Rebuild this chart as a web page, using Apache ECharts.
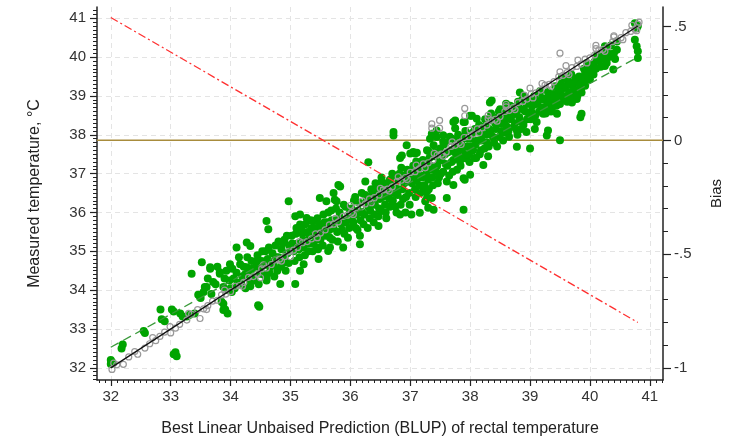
<!DOCTYPE html>
<html>
<head>
<meta charset="utf-8">
<script src="https://cdn.jsdelivr.net/npm/echarts@6/dist/echarts.min.js"></script>
<style>
html,body{margin:0;padding:0;background:#fff;}
#chart{width:735px;height:442px;}
</style>
</head>
<body>
<div id="chart"></div>
<script>
// ---- Data ----
const xTicks = [32,33,34,35,36,37,38,39,40,41];
const yTicks = [32,33,34,35,36,37,38,39,40,41];
const biasTicks = [-1,-0.5,0,0.5];
const biasTickLabels = ['-1','-.5','0','.5'];

// Measured vs BLUP (green filled points)
const measured = [
[32.0,32.1],[32.0,32.2],[32.02,32.15],[32.18,32.5],[32.2,32.6],[32.57,32.9],[32.55,32.95],[33.05,32.35],[33.1,32.3],[33.08,32.4],
[32.83,33.5],[32.85,33.25],[32.9,33.2],[33.02,33.5],[33.05,33.45],[33.16,33.4],[33.2,33.32],[33.27,33.32],[33.32,33.37],[33.4,33.4],
[33.46,33.88],[33.5,33.8],[33.6,34.08],[33.35,34.42],[33.66,34.55],[33.82,34.42],[33.88,33.49],[33.88,33.65],[33.95,33.4],[33.91,33.5],
[33.96,34.0],[34.0,34.05],[33.52,34.72],[33.57,34.08],[33.71,34.21],[33.85,33.7],[34.02,33.95],[33.49,33.83],
[33.55,33.95],[33.62,34.3],[33.68,33.9],[33.75,34.15],[33.78,34.6],[33.9,34.3],[33.93,34.5],[33.98,34.25],
[34.6,35.78],[34.63,35.57],[34.27,35.23],[34.33,35.14],[34.1,35.1],[33.66,34.59],[33.82,34.46],[33.99,34.67],[34.16,34.67],[34.27,34.59],
[33.88,34.08],[34.46,33.61],[34.48,33.57],[34.83,34.16],[35.08,34.16],[34.6,34.25],[34.33,34.25],[34.49,34.42],[34.66,34.59],
[34.05,34.3],[34.1,34.45],[34.12,34.2],[34.2,34.35],[34.22,34.6],[34.25,34.05],[34.3,34.5],[34.35,34.75],[34.38,34.35],[34.42,34.6],
[34.45,34.9],[34.5,34.55],[34.52,34.75],[34.55,34.4],[34.58,35.0],[34.62,34.8],[34.65,34.45],[34.7,34.95],[34.72,34.65],[34.75,35.15],
[34.78,34.5],[34.8,34.85],[34.85,35.05],[34.88,34.7],[34.9,35.3],[34.92,34.5],[34.95,34.95],[34.98,35.15],
[34.03,34.55],[34.07,34.05],[34.14,34.85],[34.18,34.15],[34.24,34.4],[34.28,34.85],[34.33,34.1],[34.36,34.55],[34.4,34.25],[34.44,34.75],
[34.47,34.15],[34.53,35.0],[34.56,34.65],[34.6,34.3],[34.64,35.1],[34.68,34.7],[34.73,34.35],[34.76,34.85],[34.8,35.25],[34.84,34.6],
[34.87,35.2],[34.9,34.85],[34.94,35.4],[34.97,34.7],
[34.97,36.29],[35.6,36.29],[35.77,36.29],[35.08,35.9],[35.16,35.69],[35.16,34.5],[35.22,34.67],[35.47,34.8],[35.63,35.01],[35.8,36.71],
[35.83,36.67],[35.72,36.5],[35.74,36.33],[35.49,36.37],[35.16,35.95],[35.27,35.86],[35.38,35.78],[35.49,35.52],[35.27,35.27],[35.44,35.1],
[35.88,35.1],[35.66,35.1],
[35.02,35.4],[35.05,35.0],[35.1,35.6],[35.12,35.2],[35.15,34.85],[35.2,35.45],[35.22,35.1],[35.25,35.7],[35.3,35.0],[35.32,35.4],
[35.35,35.6],[35.38,35.2],[35.42,35.45],[35.45,35.85],[35.5,35.3],[35.52,35.65],[35.55,35.95],[35.58,35.4],[35.62,35.75],[35.65,35.55],
[35.68,36.05],[35.7,35.3],[35.75,35.8],[35.78,35.5],[35.82,36.0],[35.85,35.7],[35.9,35.45],[35.92,36.15],[35.95,35.85],[35.98,35.6],
[35.03,35.2],[35.07,34.75],[35.09,35.45],[35.14,35.05],[35.18,35.6],[35.21,35.3],[35.24,34.9],[35.28,35.5],[35.31,35.2],[35.34,35.8],
[35.37,35.0],[35.4,35.6],[35.43,35.3],[35.46,35.05],[35.48,35.7],[35.51,35.5],[35.54,35.15],[35.57,35.75],[35.6,35.55],[35.63,36.0],
[35.66,35.35],[35.69,35.8],[35.72,35.6],[35.76,36.1],[35.79,35.25],[35.83,35.85],[35.86,35.55],[35.89,36.2],[35.93,35.75],[35.96,35.35],
[35.99,36.0],
[36.3,37.29],[36.25,36.8],[36.5,36.75],[36.66,36.84],[36.77,36.8],[36.94,36.88],[36.83,35.95],[36.47,35.65],[36.16,35.4],[36.16,35.18],
[36.72,38.07],[36.72,37.98],[36.86,37.47],[36.83,37.4],[36.94,37.73],
[36.02,36.1],[36.05,35.75],[36.08,36.4],[36.1,35.95],[36.12,35.55],[36.15,36.25],[36.2,36.0],[36.22,35.7],[36.25,36.45],[36.3,36.15],
[36.32,35.85],[36.35,36.6],[36.38,36.3],[36.4,35.95],[36.42,36.75],[36.45,36.45],[36.48,36.1],[36.52,36.9],[36.55,36.55],[36.58,36.2],
[36.6,35.85],[36.62,36.7],[36.65,36.35],[36.7,37.0],[36.72,36.5],[36.75,36.15],[36.78,36.85],[36.8,36.6],[36.85,37.15],[36.88,36.35],
[36.9,36.75],[36.95,37.1],[36.98,36.5],[36.92,36.0],
[36.03,35.9],[36.06,36.3],[36.09,35.6],[36.13,36.05],[36.17,35.8],[36.19,36.5],[36.23,35.95],[36.27,36.3],[36.29,35.6],[36.33,36.05],
[36.36,36.45],[36.39,35.75],[36.41,36.2],[36.44,36.6],[36.47,35.9],[36.49,36.35],[36.51,36.05],[36.54,36.4],[36.57,36.75],[36.59,36.0],
[36.63,36.5],[36.66,36.15],[36.69,36.85],[36.71,36.3],[36.74,36.65],[36.77,36.0],[36.79,36.45],[36.82,37.0],[36.84,36.2],[36.87,36.6],
[36.9,36.95],[36.93,36.4],[36.96,36.8],[36.99,36.2],
[37.0,37.52],[37.11,37.54],[37.3,37.58],[37.28,36.54],[37.36,36.37],[37.3,36.12],[37.39,36.07],[37.02,35.95],[37.16,35.99],[37.05,37.56],
[37.1,37.31],[37.33,37.9],[37.44,37.94],[37.55,37.82],[37.55,37.99],[37.83,37.31],[37.89,36.88],[38.0,36.97],[37.75,38.37],[37.75,38.17],
[37.89,38.33],[37.08,37.52],[37.28,37.6],[37.39,37.73],[37.36,38.03],[37.44,38.11],[37.72,38.33],[37.91,38.33],[37.94,37.39],[37.91,36.84],
[37.89,36.07],[37.61,36.37],[37.72,36.71],[37.25,36.29],[37.28,36.37],
[37.02,36.9],[37.05,37.2],[37.08,36.6],[37.12,37.0],[37.15,36.7],[37.18,37.3],[37.2,36.9],[37.22,36.55],[37.25,37.15],[37.3,36.85],
[37.32,37.4],[37.35,37.1],[37.38,36.7],[37.42,37.55],[37.45,37.2],[37.48,36.9],[37.5,37.65],[37.52,37.35],[37.55,37.05],[37.58,37.5],
[37.6,37.8],[37.62,37.2],[37.65,36.95],[37.68,37.6],[37.7,37.9],[37.72,37.35],[37.75,37.7],[37.78,37.1],[37.8,38.0],[37.82,37.55],
[37.85,37.8],[37.88,37.4],[37.92,38.1],[37.95,37.7],[37.98,37.5],
[37.03,36.75],[37.06,37.05],[37.09,36.4],[37.11,36.85],[37.14,37.15],[37.17,36.5],[37.19,36.95],[37.21,37.35],[37.24,36.7],[37.27,37.0],
[37.29,37.3],[37.31,36.6],[37.34,37.2],[37.37,36.9],[37.4,37.45],[37.43,37.05],[37.46,36.75],[37.49,37.35],[37.51,37.0],[37.53,37.45],
[37.56,37.75],[37.59,37.25],[37.61,36.8],[37.63,37.55],[37.66,37.95],[37.69,37.3],[37.71,37.05],[37.74,37.55],[37.76,37.85],[37.79,37.4],
[37.81,37.7],[37.84,37.2],[37.86,37.6],[37.9,37.95],[37.93,37.5],[37.96,37.9],[37.99,37.3],
[38.0,38.49],[38.11,38.41],[38.33,38.83],[38.5,38.66],[38.67,38.75],[38.83,39.09],[38.22,37.22],[38.78,37.69],[39.0,37.65],[38.36,38.88],
[38.03,38.49],[38.39,38.37],[38.5,38.41],[38.78,38.11],[38.94,38.07],[38.72,38.54],[38.67,38.71],[38.94,38.79],
[38.02,37.9],[38.05,37.6],[38.08,38.15],[38.1,37.4],[38.12,37.85],[38.15,38.25],[38.18,37.6],[38.2,38.0],[38.25,38.4],[38.28,37.8],
[38.3,37.45],[38.32,38.15],[38.35,38.55],[38.38,37.95],[38.42,38.3],[38.45,37.7],[38.48,38.6],[38.52,38.1],[38.55,37.85],[38.58,38.4],
[38.6,38.8],[38.62,38.2],[38.65,37.95],[38.7,38.5],[38.75,38.3],[38.8,38.85],[38.82,38.45],[38.85,38.15],[38.88,38.65],[38.9,39.0],
[38.95,38.4],[38.98,38.8],
[38.01,37.7],[38.04,38.05],[38.07,37.4],[38.09,37.75],[38.13,38.1],[38.16,37.5],[38.19,37.85],[38.22,38.2],[38.24,37.65],[38.27,38.0],
[38.29,38.35],[38.31,37.7],[38.34,38.05],[38.37,38.4],[38.4,37.8],[38.43,38.15],[38.46,38.45],[38.49,37.95],[38.51,38.3],[38.54,38.6],
[38.56,38.05],[38.59,38.25],[38.61,38.55],[38.64,38.1],[38.68,38.4],[38.71,38.7],[38.73,38.2],[38.77,38.55],[38.79,38.0],[38.81,38.7],
[38.84,38.35],[38.87,38.9],[38.89,38.25],[38.92,38.6],[38.96,38.9],[38.99,38.5],
[39.08,38.15],[39.11,38.33],[39.17,39.13],[39.28,38.92],[39.39,39.05],[39.5,39.05],[39.11,38.79],[39.33,38.79],[39.5,38.79],[39.22,38.54],
[39.45,38.54],[39.86,38.54],[39.53,39.47],[39.64,39.38],[39.75,39.34],[39.86,39.34],[39.86,39.09],[39.72,39.05],[39.78,38.92],[39.7,38.83],
[39.92,39.6],[40.0,39.56],[39.95,39.85],[39.95,39.64],[39.92,39.26],[39.85,39.17],[39.5,37.86],[39.84,38.45],[39.28,37.98],[39.3,38.11],
[39.02,38.6],[39.05,38.9],[39.15,38.6],[39.2,38.95],[39.25,38.7],[39.3,39.1],[39.35,38.6],[39.4,38.85],[39.42,39.25],[39.48,38.95],
[39.55,39.2],[39.58,38.9],[39.6,39.45],[39.65,39.1],[39.68,38.95],[39.72,39.3],[39.8,39.15],[39.82,39.5],
[39.01,38.4],[39.04,38.75],[39.07,39.0],[39.09,38.5],[39.13,38.85],[39.16,39.1],[39.19,38.7],[39.23,38.9],[39.26,38.55],[39.29,38.8],
[39.31,39.0],[39.34,38.95],[39.37,38.7],[39.41,39.0],[39.44,38.75],[39.47,39.15],[39.52,39.3],[39.56,39.0],[39.59,39.25],[39.62,38.85],
[39.66,39.3],[39.69,39.55],[39.73,39.15],[39.76,39.45],[39.79,39.0],[39.83,39.3],[39.88,39.45],[39.9,39.7],[39.93,39.4],[39.97,39.5],
[40.08,39.89],[40.0,39.68],[40.0,39.43],[40.25,40.28],[40.25,39.98],[40.25,39.77],[40.39,39.68],[40.45,40.4],[40.45,40.19],[40.75,40.87],
[40.78,40.74],[40.8,40.8],[40.75,40.45],[40.78,40.28],[40.8,40.15],[40.8,39.98],[40.05,39.75],[40.15,39.9],[40.12,40.05],[40.3,40.1],
[40.35,40.3],[40.2,40.1],
[40.02,39.8],[40.06,39.55],[40.1,39.7],[40.18,39.75],[40.22,39.95],[40.28,39.85],[40.32,40.0],[40.4,40.1],[40.42,39.95]
];

// Predicted values (grey hollow circles)
const predicted = [
[32.02,31.96],[32.1,32.08],[32.21,32.09],[32.3,32.28],[32.4,32.42],[32.57,32.51],[32.65,32.62],[32.75,32.7],[32.82,32.81],[32.9,32.92],
[32.99,33.06],[33.08,33.02],[33.15,33.12],[33.27,33.23],[33.35,33.38],[33.49,33.27],[33.45,33.5],[33.55,33.52],[33.62,33.6],[33.7,33.72],
[33.78,33.74],[33.85,33.88],[33.92,33.9],[34.0,33.96],[34.08,34.1],[34.15,34.12],[34.22,34.2],[34.3,34.33],[34.38,34.35],[34.45,34.42],
[34.52,34.55],[34.6,34.57],[34.68,34.66],[34.75,34.78],[34.82,34.8],[34.9,34.86],[34.98,35.0],[35.05,35.03],[35.12,35.1],[35.2,35.22],
[35.28,35.25],[35.35,35.32],[35.42,35.45],[35.5,35.47],[35.58,35.55],[35.65,35.68],[35.72,35.7],[35.8,35.76],[35.88,35.9],[35.95,35.93],
[36.02,36.0],[36.1,36.12],[36.18,36.15],[36.25,36.22],[36.32,36.35],[36.4,36.38],[36.48,36.45],[36.55,36.58],[36.62,36.6],[36.7,36.66],
[36.78,36.8],[36.85,36.83],[36.92,36.9],[37.0,37.03],[37.08,37.05],[37.15,37.12],[37.22,37.25],[37.3,37.28],[37.38,37.35],[37.45,37.48],
[37.52,37.5],[37.6,37.56],[37.68,37.7],[37.75,37.73],[37.82,37.8],[37.9,37.93],[37.98,37.95],[38.05,38.02],[38.12,38.15],[38.2,38.18],
[38.28,38.25],[38.35,38.38],[38.42,38.4],[38.5,38.47],[38.58,38.6],[38.65,38.63],[38.72,38.7],[38.8,38.83],[38.88,38.86],[38.95,38.92],
[39.02,39.05],[39.1,39.08],[39.18,39.15],[39.25,39.28],[39.32,39.3],[39.4,39.37],[39.48,39.5],[39.55,39.53],[39.62,39.6],[39.7,39.73],
[39.78,39.76],[39.85,39.82],[39.92,39.95],[40.0,39.98],[40.08,40.06],[40.15,40.18],[40.22,40.2],[40.3,40.27],[40.38,40.4],[40.45,40.43],
[40.52,40.5],[40.6,40.63],[40.68,40.66],[40.75,40.72],[40.8,40.85],[40.82,40.9],
[37.36,38.28],[37.36,38.17],[37.49,38.37],[37.49,38.17],[37.91,38.68],[37.91,38.49],[39.5,40.1],
[36.0,36.18],[38.3,38.5],[40.4,40.55],[34.5,34.32],[35.0,34.86],[39.0,39.2],[39.6,39.78],[38.6,38.78],[40.1,40.3],
[32.05,32.12],[32.45,32.35],[32.7,32.78],[33.0,32.9],[33.3,33.4],[33.6,33.5],[33.9,34.0],[34.2,34.1],[34.55,34.65],[34.85,34.75],
[35.15,35.25],[35.45,35.35],[35.75,35.85],[36.05,35.95],[36.2,36.3],[36.35,36.25],[36.5,36.62],[36.65,36.55],[36.8,36.92],[36.95,36.85],
[37.1,37.22],[37.25,37.15],[37.4,37.52],[37.55,37.45],[37.7,37.82],[37.85,37.75],[38.0,38.12],[38.15,38.05],[38.3,38.42],[38.45,38.35],
[38.6,38.72],[38.75,38.65],[38.9,39.02],[39.05,38.95],[39.2,39.32],[39.35,39.25],[39.5,39.62],[39.65,39.55],[39.8,39.92],[39.95,39.85],
[40.1,40.22],[40.25,40.15],[40.4,40.52],[40.55,40.45],[40.7,40.82],[40.78,40.68]
];

// Reference lines
const identityLine = [[32,32],[40.8,40.8]];
const fitLine = [[32,32.53],[40.8,40.0]];
const biasLine = [[32,0.54],[40.8,-0.8]];
const xMin = 31.77, xMax = 41.22;
const yMin = 31.687, yMax = 41.29;
const bMin = -1.053, bMax = 0.586;
const zeroBias = [[xMin,0],[xMax,0]];

function range(a, b, step){ const r=[]; for(let v=a; v<=b+1e-9; v+=step){ r.push(Math.round(v*100)/100); } return r; }
const xMinor = range(31.8, 41.2, 0.1);
const yMinor = range(31.7, 41.2, 0.1);
const bMinor = range(-1.0, 0.5, 0.1);

const FONT = 'Liberation Sans, Arial, sans-serif';
const axisCol = '#222';
const gridLine = {show:true, lineStyle:{color:'#e4e4e4', type:[5,4], width:1}};

const chart = echarts.init(document.getElementById('chart'), null, {renderer:'canvas'});
chart.setOption({
  animation:false,
  backgroundColor:'#fff',
  grid:{left:97, right:72, top:7, bottom:58, containLabel:false},
  xAxis:[
    {type:'value', min:xMin, max:xMax, splitNumber:9, position:'bottom',
     name:'Best Linear Unbaised Prediction (BLUP) of rectal temperature',
     nameLocation:'middle', nameGap:41,
     nameTextStyle:{fontFamily:FONT, fontSize:16, color:'#222'},
     axisLine:{show:true, onZero:false, lineStyle:{color:axisCol, width:1.5}},
     axisTick:{show:true, customValues:xTicks, length:6, lineStyle:{color:axisCol, width:1.2}},
     axisLabel:{customValues:xTicks, fontFamily:FONT, fontSize:15, color:'#333', margin:9},
     splitLine:gridLine},
    {type:'value', min:xMin, max:xMax, position:'bottom', gridIndex:0,
     axisLine:{show:false, onZero:false},
     axisTick:{show:true, customValues:xMinor, length:3, lineStyle:{color:axisCol, width:1}},
     axisLabel:{show:false}, splitLine:{show:false}}
  ],
  yAxis:[
    {type:'value', min:yMin, max:yMax, splitNumber:9, position:'left',
     name:'Measured temperature, \u00B0C', nameLocation:'middle', nameGap:54,
     nameTextStyle:{fontFamily:FONT, fontSize:16, color:'#222'},
     axisLine:{show:true, onZero:false, lineStyle:{color:axisCol, width:1.5}},
     axisTick:{show:true, customValues:yTicks, length:7, lineStyle:{color:axisCol, width:1.2}},
     axisLabel:{customValues:yTicks, fontFamily:FONT, fontSize:15, color:'#333', margin:11},
     splitLine:gridLine},
    {type:'value', min:bMin, max:bMax, position:'right',
     name:'Bias', nameLocation:'middle', nameGap:46, nameRotate:90,
     nameTextStyle:{fontFamily:FONT, fontSize:15, color:'#222'},
     axisLine:{show:true, onZero:false, lineStyle:{color:axisCol, width:1.5}},
     axisTick:{show:true, customValues:biasTicks, length:8, lineStyle:{color:axisCol, width:1.2}},
     axisLabel:{customValues:biasTicks, fontFamily:FONT, fontSize:15, color:'#333', margin:11,
       formatter:function(v){ const i = biasTicks.findIndex(t=>Math.abs(t-v)<1e-6); return i>=0?biasTickLabels[i]:''; }},
     splitLine:{show:false}},
    {type:'value', min:yMin, max:yMax, position:'left',
     axisLine:{show:false, onZero:false},
     axisTick:{show:true, customValues:yMinor, length:4, lineStyle:{color:axisCol, width:1}},
     axisLabel:{show:false}, splitLine:{show:false}},
    {type:'value', min:bMin, max:bMax, position:'right',
     axisLine:{show:false, onZero:false},
     axisTick:{show:true, customValues:bMinor, length:5, lineStyle:{color:axisCol, width:1}},
     axisLabel:{show:false}, splitLine:{show:false}}
  ],
  series:[
    {type:'line', data:zeroBias, xAxisIndex:0, yAxisIndex:1, showSymbol:false, silent:true,
     lineStyle:{color:'#a88c3c', width:1.5}, z:1},
    {type:'scatter', data:measured, xAxisIndex:0, yAxisIndex:0, symbol:'circle', symbolSize:8,
     itemStyle:{color:'#00a400', opacity:1}, z:2},
    {type:'scatter', data:predicted, xAxisIndex:0, yAxisIndex:0, symbol:'circle', symbolSize:6,
     itemStyle:{color:'rgba(255,255,255,0)', borderColor:'#999', borderWidth:1.2, opacity:1}, z:3},
    {type:'line', data:identityLine, xAxisIndex:0, yAxisIndex:0, showSymbol:false,
     lineStyle:{color:'#111', width:1.3}, z:4},
    {type:'line', data:fitLine, xAxisIndex:0, yAxisIndex:0, showSymbol:false,
     lineStyle:{color:'#3a9a3a', width:1.3, type:[9,5]}, z:4},
    {type:'line', data:biasLine, xAxisIndex:0, yAxisIndex:1, showSymbol:false,
     lineStyle:{color:'#ff3030', width:1.3, type:[8,3,2,3]}, z:5}
  ]
});
</script>
</body>
</html>
